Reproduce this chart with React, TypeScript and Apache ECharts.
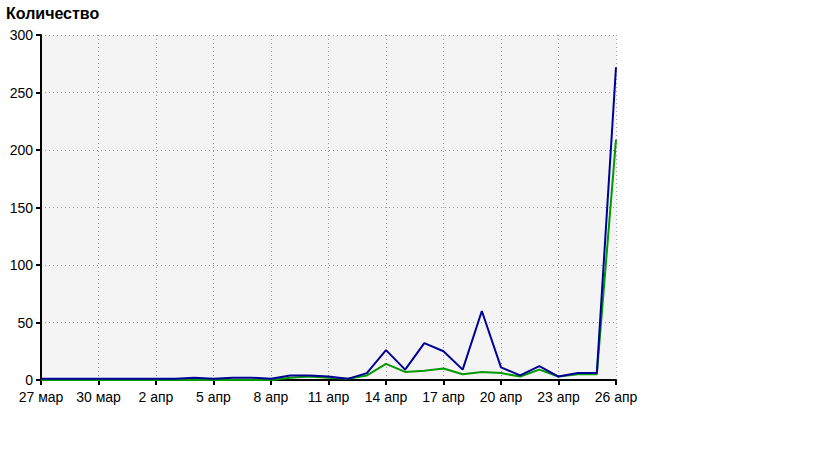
import React, { useEffect, useRef } from "react";
import * as echarts from "echarts";

const categories = [
  "27 мар", "28 мар", "29 мар", "30 мар", "31 мар",
  "1 апр", "2 апр", "3 апр", "4 апр", "5 апр", "6 апр", "7 апр", "8 апр", "9 апр", "10 апр",
  "11 апр", "12 апр", "13 апр", "14 апр", "15 апр", "16 апр", "17 апр", "18 апр", "19 апр",
  "20 апр", "21 апр", "22 апр", "23 апр", "24 апр", "25 апр", "26 апр",
];

const blueSeries = [1, 1, 1, 1, 1, 1, 1, 1, 2, 1, 2, 2, 1, 4, 4, 3, 1, 6, 26, 9, 32, 25, 9, 60, 11, 4, 12, 3, 6, 6, 272];
const greenSeries = [0, 0, 0, 0, 0, 0, 0, 0, 0, 0, 0, 0, 0, 2, 3, 2, 1, 4, 14, 7, 8, 10, 5, 7, 6, 3, 9, 3, 5, 5, 209];

const yTitle = "Количество";

export default function App() {
  const ref = useRef<HTMLDivElement>(null);
  useEffect(() => {
    if (!ref.current) return;
    const chart = echarts.init(ref.current, null, { renderer: "svg" });
    const font = "'Liberation Sans', Arial, sans-serif";
    chart.setOption({
      animation: false,
      backgroundColor: "#ffffff",
      title: {
        text: yTitle,
        left: 1,
        top: 0,
        textStyle: { fontFamily: font, fontSize: 16, fontWeight: "bold", color: "#000" },
      },
      grid: {
        left: 41,
        top: 35,
        right: 203,
        bottom: 80,
        show: true,
        backgroundColor: "#f4f4f4",
        borderWidth: 0,
      },
      xAxis: {
        type: "category",
        data: categories,
        boundaryGap: false,
        axisLine: { lineStyle: { color: "#000", width: 2 } },
        axisTick: { interval: 2, length: 5, lineStyle: { color: "#000", width: 2 } },
        axisLabel: {
          interval: 2,
          fontFamily: font,
          fontSize: 14,
          color: "#000",
          margin: 10,
        },
        splitLine: {
          show: true,
          interval: 2,
          lineStyle: { color: "#999", type: [1, 3], width: 1 },
        },
      },
      yAxis: {
        type: "value",
        min: 0,
        max: 300,
        interval: 50,
        axisLine: { show: true, lineStyle: { color: "#000", width: 2 } },
        axisTick: { show: true, length: 5, lineStyle: { color: "#000", width: 2 } },
        axisLabel: { fontFamily: font, fontSize: 14, color: "#000", margin: 8 },
        splitLine: { show: true, lineStyle: { color: "#999", type: [1, 3], width: 1 } },
      },
      series: [
        {
          type: "line",
          data: greenSeries,
          showSymbol: false,
          lineStyle: { color: "#009900", width: 2 },
          itemStyle: { color: "#009900" },
          z: 2,
        },
        {
          type: "line",
          data: blueSeries,
          showSymbol: false,
          lineStyle: { color: "#000099", width: 2 },
          itemStyle: { color: "#000099" },
          z: 3,
        },
      ],
    });
    return () => chart.dispose();
  }, []);
  return <div ref={ref} style={{ width: 819, height: 460, position: "absolute", left: 0, top: 0 }} />;
}
